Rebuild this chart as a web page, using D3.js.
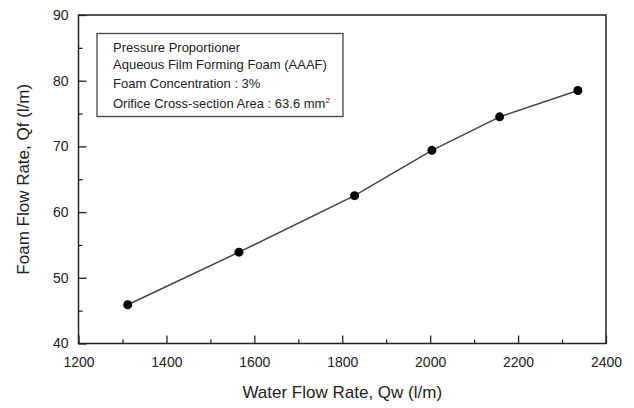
<!DOCTYPE html>
<html><head><meta charset="utf-8">
<script src="https://cdn.jsdelivr.net/npm/d3@7"></script>
<style>body{margin:0;background:#fff}svg{display:block}text{font-family:"Liberation Sans",Arial,sans-serif}</style>
</head><body>
<svg id="c" width="634" height="408"></svg>
<script>
const waterFlow = [1312, 1565, 1828, 2004, 2158, 2336];
const foamFlow = [45.9, 53.9, 62.5, 69.4, 74.5, 78.5];
const xTicks = [1200, 1400, 1600, 1800, 2000, 2200, 2400];
const xMinor = [1300, 1500, 1700, 1900, 2100, 2300];
const yTicks = [40, 50, 60, 70, 80, 90];
const yMinor = [45, 55, 65, 75, 85];
const legendLines = ["Pressure Proportioner", "Aqueous Film Forming Foam (AAAF)", "Foam Concentration : 3%", "Orifice Cross-section Area : 63.6 mm"];

const svg = d3.select("#c");
const L = 78.5, R = 606, T = 15, B = 343.5;
const x = d3.scaleLinear().domain([1200, 2400]).range([L, R]);
const y = d3.scaleLinear().domain([40, 90]).range([B, T]);
const ink = "#222";

// frame
svg.append("rect").attr("x", L).attr("y", T).attr("width", R - L).attr("height", B - T)
  .attr("fill", "none").attr("stroke", ink).attr("stroke-width", 1.5);

// x axis
const gx = svg.append("g").attr("transform", `translate(0,${B})`);
gx.call(d3.axisBottom(x).tickValues(xTicks).tickFormat(d3.format("d")).tickSizeInner(-8).tickSizeOuter(0).tickPadding(14));
gx.append("g").call(d3.axisBottom(x).tickValues(xMinor).tickSizeInner(-4).tickSizeOuter(0).tickFormat(""));
// y axis
const gy = svg.append("g").attr("transform", `translate(${L},0)`);
gy.call(d3.axisLeft(y).tickValues(yTicks).tickFormat(d3.format("d")).tickSizeInner(-8).tickSizeOuter(0).tickPadding(10));
gy.append("g").call(d3.axisLeft(y).tickValues(yMinor).tickSizeInner(-4).tickSizeOuter(0).tickFormat(""));
svg.selectAll(".domain").remove();
svg.selectAll(".tick line").attr("stroke", ink).attr("stroke-width", 1.3);
svg.selectAll(".tick text").attr("fill", ink).style("font-size", "14px").style("font-family", '"Liberation Sans",Arial,sans-serif');

// titles
svg.append("text").attr("x", (L + R) / 2).attr("y", 398).attr("text-anchor", "middle")
  .attr("fill", ink).style("font-size", "17px").text("Water Flow Rate, Qw (l/m)");
svg.append("text").attr("transform", `translate(29,${(T + B) / 2}) rotate(-90)`).attr("text-anchor", "middle")
  .attr("fill", ink).style("font-size", "17px").text("Foam Flow Rate, Qf (l/m)");

// line + points
const pts = waterFlow.map((w, i) => [w, foamFlow[i]]);
svg.append("path").datum(pts).attr("fill", "none").attr("stroke", "#444").attr("stroke-width", 1.5)
  .attr("d", d3.line().x(d => x(d[0])).y(d => y(d[1])));
svg.selectAll("circle.p").data(pts).join("circle").attr("class", "p")
  .attr("cx", d => x(d[0])).attr("cy", d => y(d[1])).attr("r", 4.5).attr("fill", "#000");

// legend box
svg.append("rect").attr("x", 97).attr("y", 33.5).attr("width", 246).attr("height", 83)
  .attr("fill", "#fff").attr("stroke", "#444").attr("stroke-width", 1.3);
const lys = [52, 69, 87.5, 108];
legendLines.forEach((t, i) => {
  const tx = svg.append("text").attr("x", 113).attr("y", lys[i]).attr("fill", ink).style("font-size", "13px").text(t);
  if (i === 3) tx.append("tspan").attr("dy", -5).style("font-size", "8px").text("2");
});
</script>
</body></html>
